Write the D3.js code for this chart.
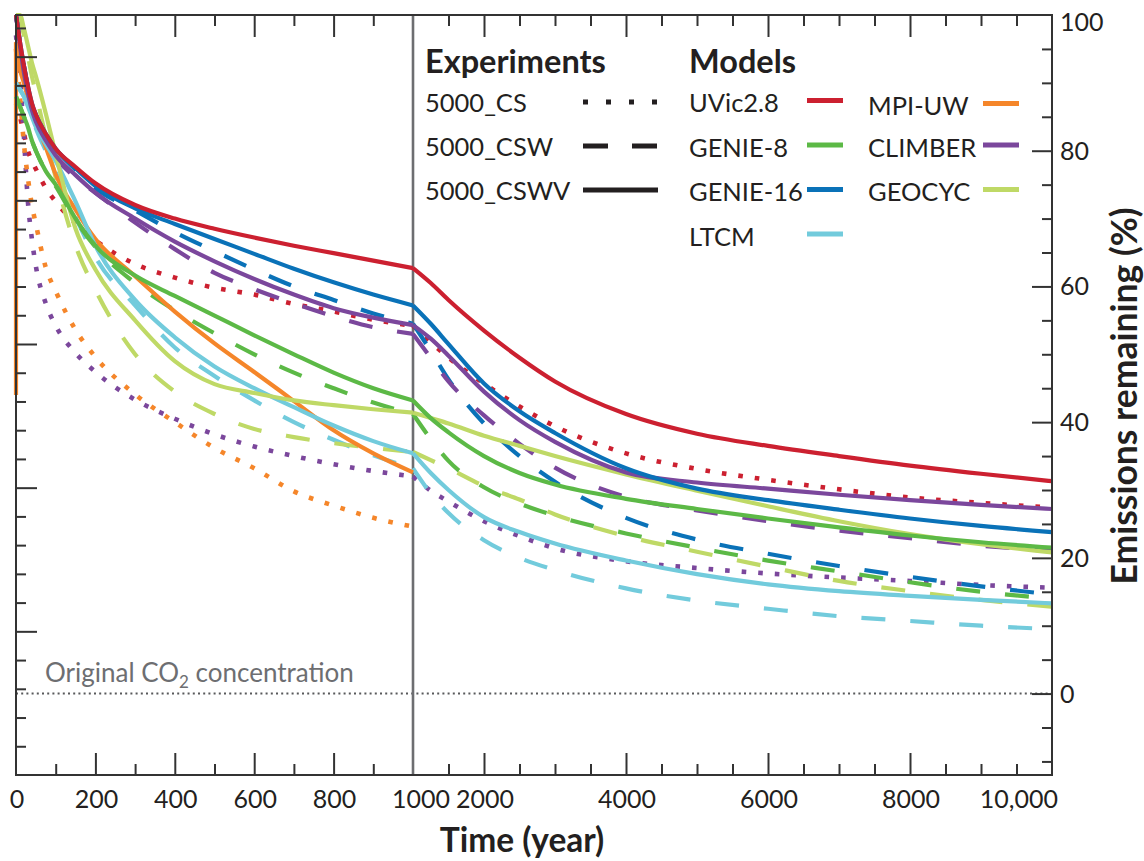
<!DOCTYPE html>
<html><head><meta charset="utf-8">
<script src="https://cdn.jsdelivr.net/npm/d3@7"></script>
<style>
body{margin:0;background:#fff}
svg{display:block}
text{font-family:Lato,"Open Sans",sans-serif;fill:#231f20}
</style>
</head><body>
<svg id="chart" width="1144" height="861"></svg>
<script>
// ---------------- DATA ----------------
const timesLeft  = [0,10,20,30,40,50,75,100,150,200,300,400,500,600,700,800,900,1000];
const timesRight = [1000,1250,1500,2000,2500,3000,4000,5000,6000,7000,8000,9000,10000];

const models = ["UVic2.8","GENIE-8","GENIE-16","LTCM","MPI-UW","CLIMBER","GEOCYC"];
const modelColors = ["#cc2030","#5cb946","#0a72b8","#72cbdc","#f5862a","#7b479c","#bfd966"];
const experiments = ["5000_CS","5000_CSW","5000_CSWV"];

// 5000_CSWV (solid)
const uvic_CSWV_L   = [100,96,92.5,89.5,87,85.3,82.5,80.3,77.6,75.2,72,70,68.5,67.2,66,64.9,63.8,62.7];
const uvic_CSWV_R   = [62.7,60.5,58,53.5,49.5,46,41.2,38.3,36.5,35,33.6,32.4,31.3];
const genie16_CSWV_L= [100,96,92.5,89.5,87,85.3,82.5,80.3,77.4,74.8,71.5,69.2,67,64.8,62.6,60.6,58.8,57.2];
const genie16_CSWV_R= [57.2,54.5,51.5,45.7,41.6,38.4,33.2,30.2,28.5,27.1,25.8,24.7,23.8];
const climber_CSWV_L= [100,95.5,91.5,88.5,86,84.3,81.5,79.3,76.4,73.8,70,66.6,63.7,61.1,58.8,56.8,55.4,54.3];
const climber_CSWV_R= [54.3,52.3,49.8,44.5,40.3,37.1,32.6,31.1,30.2,29.3,28.5,27.8,27.2];
const genie8_CSWV_L = [88,86.5,85,83.5,81.5,80,77,75,70,66,61.6,58.6,55.7,52.8,50,47.3,45,43.2];
const genie8_CSWV_R = [43.2,40.6,38.5,35,32.5,30.8,28.7,27.2,25.8,24.5,23.3,22.3,21.5];
const ltcm_CSWV_L   = [90,89,88,86.5,85,83.5,81,78.5,72.5,66,58,52.5,48.2,45,42.2,39.5,37.2,35.4];
const ltcm_CSWV_R   = [35.4,32.5,30,26,23.8,22.1,19.6,17.6,16.1,15.1,14.4,13.8,13.3];
const mpi_CSWV_L    = [96,92,90,87.8,86,84.3,80.5,76.5,71.3,67,61.5,56.3,51.6,47.4,43.1,38.8,35.4,32.6];
const mpi_CSWV_t0   = [44,96];   // vertical stroke drawn at year 0
const geocyc_CSWV_L = [100,100,98,95.5,93,91,85.5,79.5,68.5,62.5,55,49,45.6,44.3,43.2,42.5,41.9,41.4];
const geocyc_CSWV_R = [41.4,40.6,39.8,38,36.5,35,32.3,29.9,27.6,25.4,23.5,22,20.8];

// 5000_CSW (dashed)
const genie16_CSW_L = [100,96,92.5,89.5,87,85.3,82.5,80.3,77.2,74.5,71.2,68,65.2,62.5,60,58,56,54.5];
const genie16_CSW_R = [54.5,50.5,46.3,39.8,35,31.2,25.9,22.7,20.6,18.8,17.2,15.8,14.6];
const climber_CSW_L = [100,95.5,91.5,88.5,86,84.2,81.2,79,76,73.8,69.4,65.5,62,59.6,57.5,55.6,54,53];
const climber_CSW_R = [53,49.5,46,41,36.8,33.3,29,27,25.4,24,22.9,21.8,21];
const genie8_CSW_L  = [88,86.5,85,83.5,81.5,80,77,74.8,69.8,65.8,60.5,56.5,53.1,50,47.3,45,42.9,41.2];
const genie8_CSW_R  = [41.2,37.5,34.3,30.4,28,26.2,23.6,21.5,19.6,18,16.4,15,14];
const ltcm_CSW_L    = [90,89,88,86.5,85,83.3,80,76.8,70.2,64.3,57.2,51,46.8,43.2,40,37.4,35.1,33.2];
const ltcm_CSW_R    = [33.2,29.5,26.6,22.6,20,18.2,15.5,13.7,12.5,11.4,10.7,10,9.5];
const geocyc_CSW_L  = [100,99.5,97,94,91,88.5,82,76,66,59.5,50,44.5,41.2,39,37.8,36.9,36.2,35.6];
const geocyc_CSW_R  = [35.6,34.4,33.2,30.6,28.6,26.4,23.2,20.9,18.7,16.6,15.1,13.8,12.8];

// 5000_CS (dotted)
const uvic_CS_L     = [87,85,82.5,80,78.5,77.3,74.5,72.5,69.3,66.8,63.3,61.3,59.8,58.8,57.4,56.3,55.1,54.2];
const uvic_CS_R     = [54.2,51.8,49.5,45.7,42.3,39.4,35.4,33.1,31.5,30.1,28.9,28.1,27.4];
const climber_CS_L  = [97,91,82,72.5,67,63,57.5,54.2,50.2,47.4,43.3,40.5,38.2,36.4,35,33.8,32.8,32];
const climber_CS_R  = [32,29.9,28.3,25.4,23.2,21.4,19.5,18.5,17.7,17.1,16.6,16,15.6];
const mpi_CS_L      = [95,88,81,76,72,69.2,62.8,59.3,53.6,49.6,44.1,40,36.2,33.2,29.8,27.7,25.9,24.6];

// axis ticks
const xTicksLeftMinor  = [100,300,500,700,900];
const xTicksLeftMajor  = [200,400,600,800];
const xTicksRightMinor = [1500,2500,3000,3500,4500,5000,5500,6500,7000,7500,8500,9000,9500];
const xTicksRightMajor = [2000,4000,6000,8000];
const xTickLabels      = [0,200,400,600,800,1000,2000,4000,6000,8000,10000];
const yTicksMinor      = [-10,-5,5,10,15,25,30,35,45,50,55,65,70,75,85,90,95];
const yTicksMajor      = [0,20,40,60,80,100];
const leftAuxMinor     = [200,400,600,800,1200,1400,1600,1800,2200,2400,2600,2800,3200,3400,3600,3800,4200,4400,4600,4800,5200];
const leftAuxMajor     = [1000,2000,3000,4000,5000];

const series = [
  // dotted
  {m:"UVic2.8", e:"5000_CS", L:uvic_CS_L, R:uvic_CS_R},
  {m:"CLIMBER", e:"5000_CS", L:climber_CS_L, R:climber_CS_R},
  {m:"MPI-UW",  e:"5000_CS", L:mpi_CS_L, R:null},
  // dashed
  {m:"LTCM",    e:"5000_CSW", L:ltcm_CSW_L, R:ltcm_CSW_R},
  {m:"GEOCYC",  e:"5000_CSW", L:geocyc_CSW_L, R:geocyc_CSW_R},
  {m:"GENIE-8", e:"5000_CSW", L:genie8_CSW_L, R:genie8_CSW_R},
  {m:"GENIE-16",e:"5000_CSW", L:genie16_CSW_L, R:genie16_CSW_R},
  {m:"CLIMBER", e:"5000_CSW", L:climber_CSW_L, R:climber_CSW_R},
  // solid
  {m:"MPI-UW",  e:"5000_CSWV", L:mpi_CSWV_L, R:null, T0:mpi_CSWV_t0},
  {m:"LTCM",    e:"5000_CSWV", L:ltcm_CSWV_L, R:ltcm_CSWV_R},
  {m:"GEOCYC",  e:"5000_CSWV", L:geocyc_CSWV_L, R:geocyc_CSWV_R},
  {m:"GENIE-8", e:"5000_CSWV", L:genie8_CSWV_L, R:genie8_CSWV_R},
  {m:"CLIMBER", e:"5000_CSWV", L:climber_CSWV_L, R:climber_CSWV_R},
  {m:"GENIE-16",e:"5000_CSWV", L:genie16_CSWV_L, R:genie16_CSWV_R},
  {m:"UVic2.8", e:"5000_CSWV", L:uvic_CSWV_L, R:uvic_CSWV_R}
];

// ---------------- DRAW ----------------
const svg = d3.select("#chart");
const P = {left:16, right:1052, top:15, bottom:775};
const x = d3.scaleLinear().domain([0,1000,10000]).range([P.left, 413, P.right]);
const y = d3.scaleLinear().domain([-12,100]).range([P.bottom, P.top]);
const yAux = d3.scaleLinear().domain([0,5290]).range([P.bottom, P.top]);
const color = d3.scaleOrdinal().domain(models).range(modelColors);
const styles = {
  "5000_CS":   {w:4.6, dash:"4.6,12"},
  "5000_CSW":  {w:4.2, dash:"24,25"},
  "5000_CSWV": {w:4.2, dash:null}
};
const ink = "#231f20";

// zero line
svg.append("line")
  .attr("x1", x(0)).attr("x2", x(10000)).attr("y1", y(0)).attr("y2", y(0))
  .attr("stroke", "#58595b").attr("stroke-width", 2).attr("stroke-dasharray", "2,3.2");
const note = svg.append("text").attr("x", 45).attr("y", y(0) - 12)
  .attr("font-size", 26).style("fill", "#6d6e71");
note.append("tspan").text("Original CO");
note.append("tspan").attr("font-size", 17).attr("dy", 6).text("2");
note.append("tspan").attr("dy", -6).text(" concentration");

// divider at 1000 years
svg.append("line").attr("x1", x(1000)).attr("x2", x(1000))
  .attr("y1", P.top).attr("y2", P.bottom)
  .attr("stroke", "#6d6e71").attr("stroke-width", 2.6);

// series
const line = d3.line().x(d => x(d[0])).y(d => y(d[1])).curve(d3.curveMonotoneX);
const lineStraight = d3.line().x(d => x(d[0])).y(d => y(d[1]));
const gS = svg.append("g").attr("fill", "none");
series.forEach(s => {
  const st = styles[s.e];
  const parts = [d3.zip(timesLeft, s.L)];
  if (s.R) parts.push(d3.zip(timesRight, s.R));
  parts.forEach(pts => {
    gS.append("path").attr("d", line(pts))
      .attr("stroke", color(s.m)).attr("stroke-width", st.w)
      .attr("stroke-dasharray", st.dash).attr("stroke-linejoin", "round");
  });
  if (s.T0) {
    gS.append("path").attr("d", lineStraight(s.T0.map(v => [0, v])))
      .attr("stroke", color(s.m)).attr("stroke-width", st.w);
  }
});

// frame
svg.append("rect").attr("x", P.left).attr("y", P.top)
  .attr("width", P.right - P.left).attr("height", P.bottom - P.top)
  .attr("fill", "none").attr("stroke", "#333").attr("stroke-width", 2);

function ticks(axisGen, scale, vals, size, tx, ty) {
  const g = svg.append("g").attr("transform", `translate(${tx},${ty})`)
    .call(axisGen(scale).tickValues(vals).tickSize(size).tickFormat(""));
  g.select(".domain").remove();
  g.selectAll("line").attr("stroke", "#333").attr("stroke-width", 2);
}
// top (ticks down) and bottom (ticks up)
ticks(d3.axisBottom, x, xTicksLeftMinor.concat(xTicksRightMinor), 11, 0, P.top);
ticks(d3.axisBottom, x, xTicksLeftMajor.concat(xTicksRightMajor), 22, 0, P.top);
ticks(d3.axisTop, x, xTicksLeftMinor.concat(xTicksRightMinor), 11, 0, P.bottom);
ticks(d3.axisTop, x, xTicksLeftMajor.concat(xTicksRightMajor), 22, 0, P.bottom);
// right (ticks left)
ticks(d3.axisLeft, y, yTicksMinor, 10, P.right, 0);
ticks(d3.axisLeft, y, yTicksMajor.filter(v => v < 100), 20, P.right, 0);
// left auxiliary (ticks right)
ticks(d3.axisRight, yAux, leftAuxMinor, 10, P.left, 0);
ticks(d3.axisRight, yAux, leftAuxMajor, 21, P.left, 0);

// x tick labels
svg.append("g").selectAll("text").data(xTickLabels).join("text")
  .attr("x", d => x(d) + (d === 1000 ? 8 : d === 10000 ? 6 : 1))
  .attr("y", P.bottom + 33)
  .attr("text-anchor", d => d === 10000 ? "end" : "middle")
  .attr("font-size", 25)
  .text(d => d === 10000 ? "10,000" : String(d));

// y tick labels (right)
svg.append("g").selectAll("text").data(yTicksMajor).join("text")
  .attr("x", P.right + 8)
  .attr("y", d => Math.max(y(d), P.top + 7))
  .attr("dy", "0.36em")
  .attr("font-size", 25)
  .text(d => d);

// axis titles
svg.append("text").attr("x", 522).attr("y", 852).attr("text-anchor", "middle")
  .attr("font-size", 33.5).attr("font-weight", "bold").text("Time (year)");
svg.append("text").attr("transform", "translate(1137,396) rotate(-90)")
  .attr("text-anchor", "middle").attr("font-size", 35.5).attr("font-weight", "bold")
  .text("Emissions remaining (%)");

// legend: experiments
const legE = svg.append("g");
legE.append("text").attr("x", 425).attr("y", 73).attr("font-size", 32.5)
  .attr("font-weight", "bold").text("Experiments");
experiments.forEach((e, i) => {
  const by = 112 + i * 44;
  legE.append("text").attr("x", 425).attr("y", by).attr("font-size", 25.5).text(e);
  legE.append("line").attr("x1", 583).attr("x2", 658).attr("y1", by - 10).attr("y2", by - 10)
    .attr("stroke", ink).attr("stroke-width", 5)
    .attr("stroke-dasharray", e === "5000_CS" ? "5,18" : e === "5000_CSW" ? "25,24" : null);
});

// legend: models
const legM = svg.append("g");
legM.append("text").attr("x", 689).attr("y", 73).attr("font-size", 32.5)
  .attr("font-weight", "bold").text("Models");
models.forEach((m, i) => {
  const col = i < 4 ? 0 : 1;
  const row = i < 4 ? i : i - 4;
  const tx = col === 0 ? 689 : 868;
  const lx = col === 0 ? 807 : 983;
  const by = 112 + row * 44.5 + (col === 1 && row === 0 ? 3 : 0);
  legM.append("text").attr("x", tx).attr("y", by).attr("font-size", 25.5).text(m);
  legM.append("line").attr("x1", lx).attr("x2", lx + 36).attr("y1", by - 11.5).attr("y2", by - 11.5)
    .attr("stroke", color(m)).attr("stroke-width", 5);
});
</script>
</body></html>
